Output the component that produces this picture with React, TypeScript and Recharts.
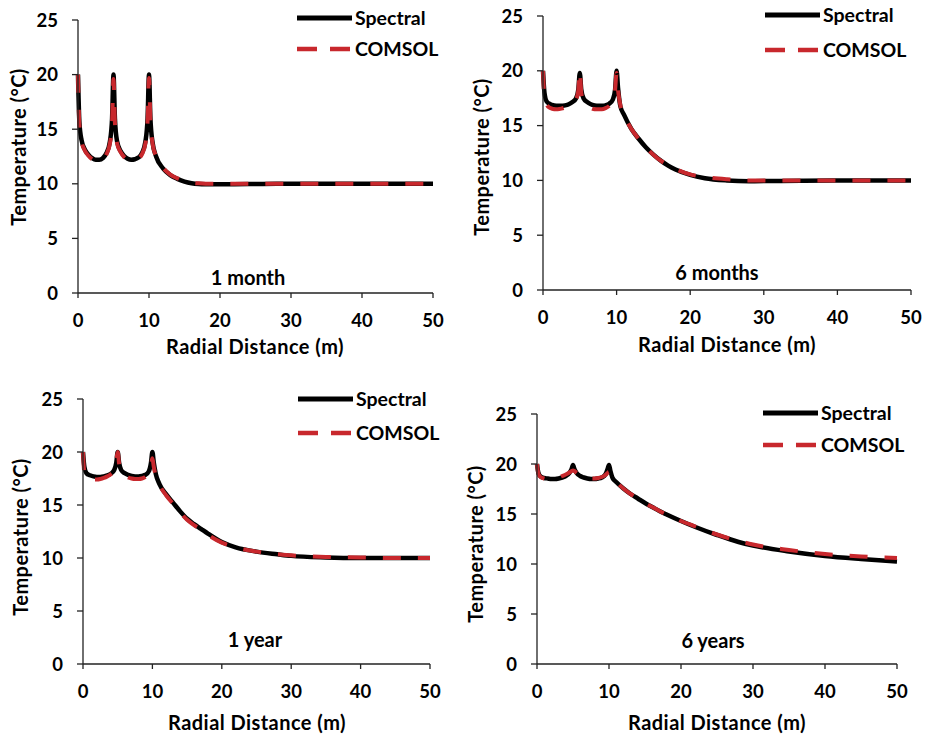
import { LineChart, Line, XAxis, YAxis, Legend, Label } from 'recharts';

const FONT = 'Lato, "Open Sans", sans-serif';

const radialDistance = [0, 0.2, 0.5, 1, 1.5, 2, 2.5, 3, 3.5, 4, 4.5, 4.8, 5, 5.2, 5.5, 6, 6.5, 7, 7.5, 8, 8.5, 9, 9.5, 9.8, 10, 10.2, 10.5, 11, 12, 13, 14, 15, 16, 17, 18, 20, 22, 25, 28, 30, 35, 40, 45, 50];

const spectral1Month = [20, 15.6, 14.0, 13.1, 12.65, 12.35, 12.2, 12.2, 12.35, 12.8, 13.9, 16.0, 20, 16.0, 13.9, 13.0, 12.55, 12.3, 12.2, 12.25, 12.4, 12.8, 13.9, 16.0, 20, 16.0, 13.8, 12.5, 11.4, 10.8, 10.45, 10.2, 10.05, 9.98, 9.96, 9.95, 9.96, 9.98, 10, 10, 10, 10, 10, 10];
const comsol1Month = [20, 15.3, 13.9, 13.0, 12.55, 12.25, 12.1, 12.1, 12.25, 12.7, 13.7, 15.6, 19.6, 15.6, 13.7, 12.9, 12.45, 12.2, 12.1, 12.15, 12.3, 12.7, 13.7, 15.7, 19.7, 15.7, 13.7, 12.5, 11.45, 10.85, 10.5, 10.25, 10.1, 10.04, 10.01, 10, 10, 10, 10, 10, 10, 10, 10, 10];

const spectral6Months = [20, 18.0, 17.2, 16.95, 16.85, 16.8, 16.8, 16.85, 16.95, 17.15, 17.5, 18.3, 19.8, 18.3, 17.5, 17.15, 16.95, 16.85, 16.8, 16.8, 16.85, 17.0, 17.4, 18.3, 20, 18.4, 16.8, 16.0, 14.7, 13.8, 13.0, 12.35, 11.8, 11.35, 11.0, 10.5, 10.2, 10.0, 9.93, 9.94, 9.97, 10, 10, 10];
const comsol6Months = [20, 17.5, 16.9, 16.6, 16.5, 16.5, 16.55, 16.65, 16.8, 17.0, 17.4, 18.2, 20, 18.0, 17.2, 16.8, 16.6, 16.5, 16.5, 16.5, 16.6, 16.8, 17.2, 18.3, 19.8, 18.2, 16.9, 16.0, 14.7, 13.8, 13.0, 12.35, 11.8, 11.4, 11.05, 10.55, 10.3, 10.1, 10.0, 10.0, 10.0, 10, 10, 10];

const spectral1Year = [20, 18.6, 18.0, 17.8, 17.7, 17.65, 17.65, 17.7, 17.8, 17.95, 18.3, 19.0, 20, 19.0, 18.3, 18.0, 17.85, 17.75, 17.7, 17.7, 17.75, 17.85, 18.2, 19.0, 20, 19.0, 17.9, 17.0, 16.0, 15.2, 14.4, 13.7, 13.2, 12.75, 12.3, 11.5, 11.0, 10.6, 10.35, 10.2, 10.05, 10.0, 10.0, 10.0];
const comsol1Year = [20, 18.0, 17.6, 17.45, 17.4, 17.4, 17.45, 17.55, 17.7, 17.9, 18.3, 19.2, 20, 18.9, 18.1, 17.8, 17.6, 17.5, 17.45, 17.45, 17.5, 17.65, 18.0, 18.8, 19.4, 18.6, 17.7, 16.9, 15.9, 15.1, 14.3, 13.6, 13.1, 12.7, 12.2, 11.45, 11.0, 10.6, 10.35, 10.25, 10.1, 10.05, 10.0, 10.0];

const spectral6Years = [20, 19.1, 18.75, 18.6, 18.55, 18.5, 18.5, 18.55, 18.65, 18.8, 19.1, 19.5, 19.9, 19.5, 19.1, 18.8, 18.65, 18.55, 18.5, 18.5, 18.55, 18.65, 18.95, 19.5, 19.9, 19.3, 18.6, 18.2, 17.55, 17.0, 16.55, 16.1, 15.7, 15.3, 14.95, 14.3, 13.7, 12.9, 12.2, 11.85, 11.25, 10.8, 10.5, 10.25];
const comsol6Years = [20, 19.0, 18.7, 18.55, 18.5, 18.5, 18.55, 18.65, 18.8, 18.95, 19.15, 19.3, 19.35, 19.3, 19.1, 18.85, 18.7, 18.6, 18.55, 18.55, 18.6, 18.7, 18.9, 19.1, 19.2, 19.0, 18.55, 18.2, 17.55, 17.0, 16.55, 16.1, 15.7, 15.3, 14.95, 14.3, 13.75, 12.95, 12.3, 11.95, 11.4, 11.0, 10.75, 10.6];

const xTicks = [0, 10, 20, 30, 40, 50];
const yTicks = [0, 5, 10, 15, 20, 25];
const seriesNames = ['Spectral', 'COMSOL'];

const RED = '#C8282D';
const AXIS = '#222';

const panels = [
  {
    caption: '1 month', spectral: spectral1Month, comsol: comsol1Month,
    left: 0, top: 0, width: 460, margin: { top: 20, right: 27, bottom: 45, left: 28 },
    xTitle: [255, 354], yTitle: [26, 147], cap: [248, 285], legend: [297, 18, 31],
  },
  {
    caption: '6 months', spectral: spectral6Months, comsol: comsol6Months,
    left: 460, top: 0, width: 470, margin: { top: 16, right: 19, bottom: 48, left: 33 },
    xTitle: [267, 352], yTitle: [29, 157], cap: [257, 280], legend: [305, 15, 35],
  },
  {
    caption: '1 year', spectral: spectral1Year, comsol: comsol1Year,
    left: 0, top: 369, width: 460, margin: { top: 30, right: 30, bottom: 43, left: 33 },
    xTitle: [257, 361], yTitle: [28, 168], cap: [255, 278], legend: [298, 30, 34],
  },
  {
    caption: '6 years', spectral: spectral6Years, comsol: comsol6Years,
    left: 460, top: 369, width: 470, margin: { top: 45, right: 33, bottom: 43, left: 27 },
    xTitle: [257, 361], yTitle: [23, 175], cap: [253, 279], legend: [303, 44, 32],
  },
];

const textStyle = { fontFamily: FONT, fontWeight: 700, fill: '#000' };
const titleStyle = { ...textStyle, fontSize: 20, letterSpacing: 0.45 };

const makeLegend = (rowGap: number) => (props: any) => {
  const payload = props.payload || [];
  const colorOf = (name: string) =>
    (payload.find((e: any) => e.value === name || e.dataKey === name) || {}).color;
  return (
    <svg width={150} height={rowGap + 24} style={{ display: 'block' }}>
      {seriesNames.map((name, i) => {
        const y = 11 + i * rowGap;
        return (
          <g key={name}>
            <line
              x1={0} x2={55} y1={y} y2={y}
              stroke={colorOf(name) || (i === 0 ? '#000' : RED)}
              strokeWidth={i === 0 ? 5 : 4.5}
              strokeDasharray={i === 0 ? undefined : '20 13'}
            />
            <text x={58} y={y + 7} fontSize={19.5} {...textStyle}>{name}</text>
          </g>
        );
      })}
    </svg>
  );
};

function Panel({ p }: { p: any }) {
  const data = radialDistance.map((r, i) => ({ r, Spectral: p.spectral[i], COMSOL: p.comsol[i] }));
  return (
    <div style={{ position: 'absolute', left: p.left, top: p.top }}>
      <LineChart width={p.width} height={368} data={data} margin={p.margin}>
        <XAxis
          type="number" dataKey="r" domain={[0, 50]} ticks={xTicks} height={30}
          tickSize={5} tickMargin={16}
          axisLine={{ stroke: AXIS, strokeWidth: 1.3 }}
          tickLine={{ stroke: AXIS, strokeWidth: 1.3 }}
          tick={{ ...textStyle, fontSize: 18.5 }}
        >
          <Label content={() => (
            <text x={p.xTitle[0]} y={p.xTitle[1]} textAnchor="middle" {...titleStyle}>
              Radial Distance (m)
            </text>
          )} />
        </XAxis>
        <YAxis
          type="number" domain={[0, 25]} ticks={yTicks} width={50}
          tickSize={6} tickMargin={14}
          axisLine={{ stroke: AXIS, strokeWidth: 1.3 }}
          tickLine={{ stroke: AXIS, strokeWidth: 1.3 }}
          tick={{ ...textStyle, fontSize: 18.5 }}
        >
          <Label content={() => (
            <text
              x={p.yTitle[0]} y={p.yTitle[1]} textAnchor="middle"
              transform={`rotate(-90, ${p.yTitle[0]}, ${p.yTitle[1]})`} {...titleStyle}
            >
              Temperature (°C)
            </text>
          )} />
        </YAxis>
        <Legend
          layout="vertical" align="center" verticalAlign="middle"
          content={makeLegend(p.legend[2])}
          wrapperStyle={{ left: p.legend[0], top: p.legend[1] - 11, width: 150 }}
        />
        <Line
          type="monotone" dataKey="Spectral" name="Spectral" stroke="#000" strokeWidth={4.5}
          dot={false} activeDot={false} isAnimationActive={false}
        />
        <Line
          type="monotone" dataKey="COMSOL" name="COMSOL" stroke={RED} strokeWidth={4}
          strokeDasharray="18 17" dot={false} activeDot={false} isAnimationActive={false}
        />
        <text x={p.cap[0]} y={p.cap[1]} textAnchor="middle" fontSize={20} {...textStyle}>
          {p.caption}
        </text>
      </LineChart>
    </div>
  );
}

export default function App() {
  return (
    <div style={{ position: 'absolute', left: 0, top: 0, width: 930, height: 737, background: '#fff' }}>
      {panels.map((p) => (
        <Panel key={p.caption} p={p} />
      ))}
    </div>
  );
}
